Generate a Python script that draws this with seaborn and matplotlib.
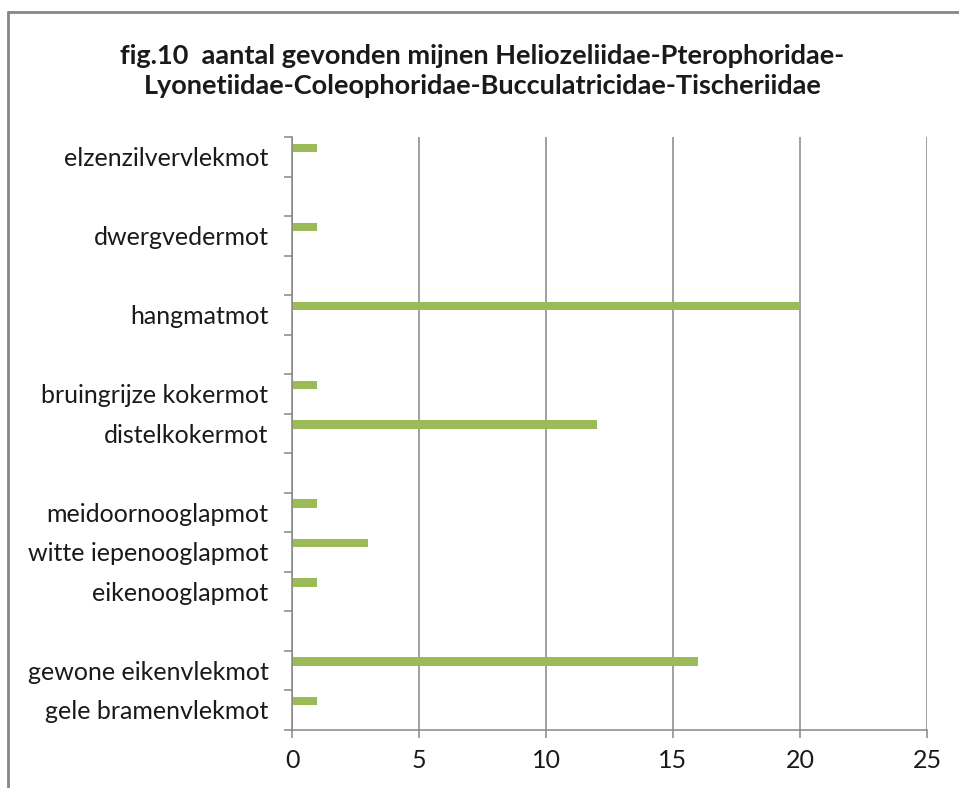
import seaborn as sns
import matplotlib
matplotlib.use('Agg')
import matplotlib.pyplot as plt
import numpy as np
import pandas as pd
from matplotlib.lines import Line2D

# categories top -> bottom, blank slots are empty category positions
categories = ['elzenzilvervlekmot', ' ', 'dwergvedermot', '  ', 'hangmatmot', '   ',
              'bruingrijze kokermot', 'distelkokermot', '    ',
              'meidoornooglapmot', 'witte iepenooglapmot', 'eikenooglapmot', '     ',
              'gewone eikenvlekmot', 'gele bramenvlekmot']
species = ['elzenzilvervlekmot', 'dwergvedermot', 'hangmatmot', 'bruingrijze kokermot',
           'distelkokermot', 'meidoornooglapmot', 'witte iepenooglapmot', 'eikenooglapmot',
           'gewone eikenvlekmot', 'gele bramenvlekmot']
counts = [1, 1, 20, 1, 12, 1, 3, 1, 16, 1]
# second (empty) excel series, keeps the bars shifted up in their slot
counts_b = [0, 0, 0, 0, 0, 0, 0, 0, 0, 0]
x_ticks = [0, 5, 10, 15, 20, 25]
title = 'fig.10  aantal gevonden mijnen Heliozeliidae-Pterophoridae-\nLyonetiidae-Coleophoridae-Bucculatricidae-Tischeriidae'

sns.set_style('white')
plt.rcParams['font.family'] = ['Lato', 'DejaVu Sans']

df = pd.concat([pd.DataFrame({'soort': species, 'aantal': counts, 'reeks': 'a'}),
                pd.DataFrame({'soort': species, 'aantal': counts_b, 'reeks': 'b'})])

fig = plt.figure(figsize=(9.59, 7.88), dpi=100)
ax = fig.add_axes([292/959, 1-729.5/788, (927-292)/959, (729.5-137)/788])

grey = '#868686'
sns.barplot(data=df, x='aantal', y='soort', hue='reeks', hue_order=['a', 'b'],
            order=categories, orient='h', palette=['#9BBB59', '#4F81BD'],
            saturation=1, dodge=True, width=0.88, gap=0.5, linewidth=0,
            legend=False, ax=ax, zorder=3)

ax.set_xlim(0, 25)
ax.set_xticks(x_ticks)
ax.set_xticklabels([str(t) for t in x_ticks])
ax.xaxis.grid(True, color=grey, lw=1.1)
ax.set_axisbelow(True)
ax.set_xlabel('')
ax.set_ylabel('')

for s in ['top', 'right']:
    ax.spines[s].set_visible(False)
for s in ['left', 'bottom']:
    ax.spines[s].set_color(grey)
    ax.spines[s].set_linewidth(1.1)
ax.spines['left'].set_zorder(5)

ax.tick_params(axis='x', direction='out', length=6, width=1.1, color=grey,
               labelsize=18, labelcolor='#1a1a1a', pad=8, bottom=True)
ax.tick_params(axis='y', which='major', length=0, labelsize=18,
               labelcolor='#1a1a1a', pad=17)
ax.set_yticks(np.arange(-0.5, len(categories), 1), minor=True)
ax.tick_params(axis='y', which='minor', direction='out', length=6, width=1.1,
               color=grey, left=True)

fig.text(0.503, 1-71/788, title, ha='center', va='center', fontsize=19.5,
         fontweight='bold', color='#1a1a1a', linespacing=1.25)

# chart frame
fig.add_artist(Line2D([8/959, 8/959], [0, 1-12/788], color=grey, lw=2, transform=fig.transFigure))
fig.add_artist(Line2D([8/959, 1], [1-12/788, 1-12/788], color=grey, lw=2, transform=fig.transFigure))

plt.savefig('out.png', dpi=100)
